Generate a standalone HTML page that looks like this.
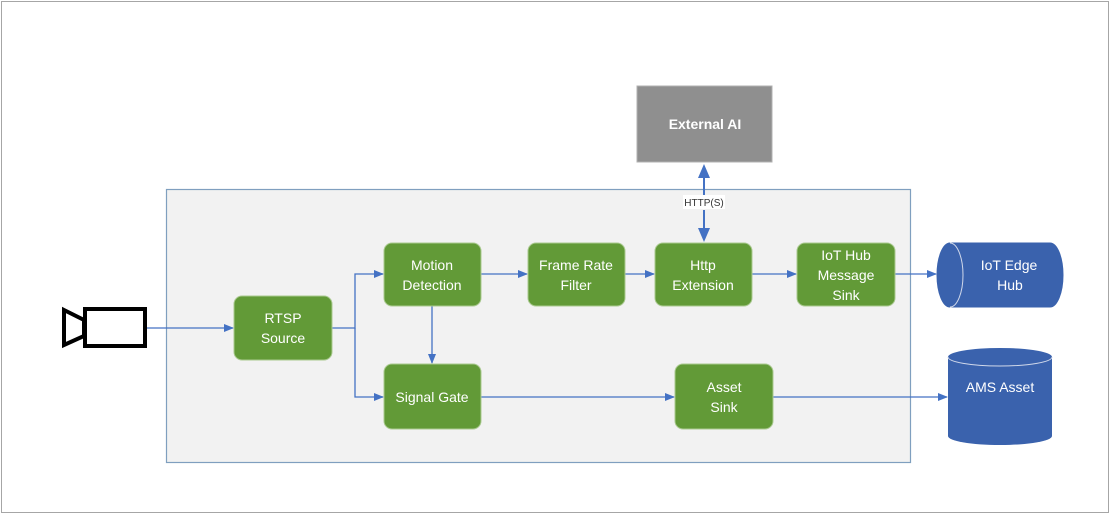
<!DOCTYPE html>
<html><head><style>
body{margin:0;width:1110px;height:514px;background:#fff;font-family:"Liberation Sans",sans-serif;overflow:hidden}
</style></head><body>
<svg width="1110" height="514" xmlns="http://www.w3.org/2000/svg" font-family="Liberation Sans, sans-serif">
<defs><marker id="a" markerWidth="10" markerHeight="10" refX="9" refY="5" orient="auto" markerUnits="userSpaceOnUse"><path d="M0,1 L10,5 L0,9 z" fill="#4472c4"/></marker></defs>
<rect x="1.5" y="1.5" width="1107" height="511" fill="#fff" stroke="#a6a6a6"/>
<rect x="166.5" y="189.5" width="744" height="273" fill="#f2f2f2" stroke="#7f9fbf" stroke-width="1.2"/>
<rect x="637" y="86" width="135" height="76" fill="#8f8f8f" stroke="#b0b0b0"/>
<text x="705" y="129" fill="#fff" font-size="14" font-weight="bold" text-anchor="middle">External AI</text>
<!-- camera -->
<rect x="85" y="309" width="60" height="37" fill="#fff" stroke="#000" stroke-width="4"/>
<polygon points="64,310 84,320 84,336 64,345" fill="#fff" stroke="#000" stroke-width="4"/>
<g stroke="#4472c4" stroke-width="1.3" fill="none" marker-end="url(#a)">
<line x1="147" y1="328" x2="233" y2="328"/>
<polyline points="332,328 355,328 355,274 383,274"/>
<polyline points="355,328 355,397 383,397"/>
<line x1="432" y1="306" x2="432" y2="363"/>
<line x1="481" y1="274" x2="527" y2="274"/>
<line x1="625" y1="274" x2="654" y2="274"/>
<line x1="752" y1="274" x2="796" y2="274"/>
<line x1="895" y1="274" x2="936" y2="274"/>
<line x1="481" y1="397" x2="674" y2="397"/>
<line x1="773" y1="397" x2="947" y2="397"/>
</g>
<g stroke="#4472c4" stroke-width="2" fill="none">
<line x1="704" y1="195" x2="704" y2="172"/><line x1="704" y1="210" x2="704" y2="233"/>
</g>
<path d="M698,178 L704,164 L710,178 z M698,228 L704,242 L710,228 z" fill="#4472c4"/>
<rect x="683" y="195" width="42" height="14" fill="#fff"/>
<text x="704" y="206" font-size="10" fill="#333" text-anchor="middle">HTTP(S)</text>
<g fill="#629a37" stroke="#a9c98f" stroke-width="1">
<rect x="234" y="296" width="98" height="64" rx="8"/>
<rect x="384" y="243" width="97" height="63" rx="8"/>
<rect x="384" y="364" width="97" height="65" rx="8"/>
<rect x="528" y="243" width="97" height="63" rx="8"/>
<rect x="655" y="243" width="97" height="63" rx="8"/>
<rect x="797" y="243" width="98" height="63" rx="8"/>
<rect x="675" y="364" width="98" height="65" rx="8"/>
</g>
<g fill="#fff" font-size="14" text-anchor="middle">
<text x="283" y="323">RTSP</text><text x="283" y="343">Source</text>
<text x="432" y="270">Motion</text><text x="432" y="290">Detection</text>
<text x="432" y="402">Signal Gate</text>
<text x="576" y="270">Frame Rate</text><text x="576" y="290">Filter</text>
<text x="703" y="270">Http</text><text x="703" y="290">Extension</text>
<text x="846" y="260">IoT Hub</text><text x="846" y="280">Message</text><text x="846" y="300">Sink</text>
<text x="724" y="392">Asset</text><text x="724" y="412">Sink</text>
</g>
<!-- IoT Edge Hub -->
<path d="M950,243 L1050,243 A13,32 0 0 1 1050,307 L950,307 A13,32 0 0 1 950,243 z" fill="#3a62ad" stroke="#3a62ad"/>
<path d="M950,243 A13,32 0 0 1 950,307" fill="none" stroke="#d0d8ea" stroke-width="1"/>
<text x="1009" y="270" fill="#fff" font-size="14" text-anchor="middle">IoT Edge</text>
<text x="1010" y="290" fill="#fff" font-size="14" text-anchor="middle">Hub</text>
<!-- AMS Asset -->
<path d="M948,357 L948,436 A52,9 0 0 0 1052,436 L1052,357 A52,9 0 0 0 948,357 z" fill="#3a62ad"/>
<path d="M948,357 A52,9 0 0 0 1052,357" fill="none" stroke="#d0d8ea" stroke-width="1"/>
<text x="1000" y="392" fill="#fff" font-size="14" text-anchor="middle">AMS Asset</text>
</svg>
</body></html>
